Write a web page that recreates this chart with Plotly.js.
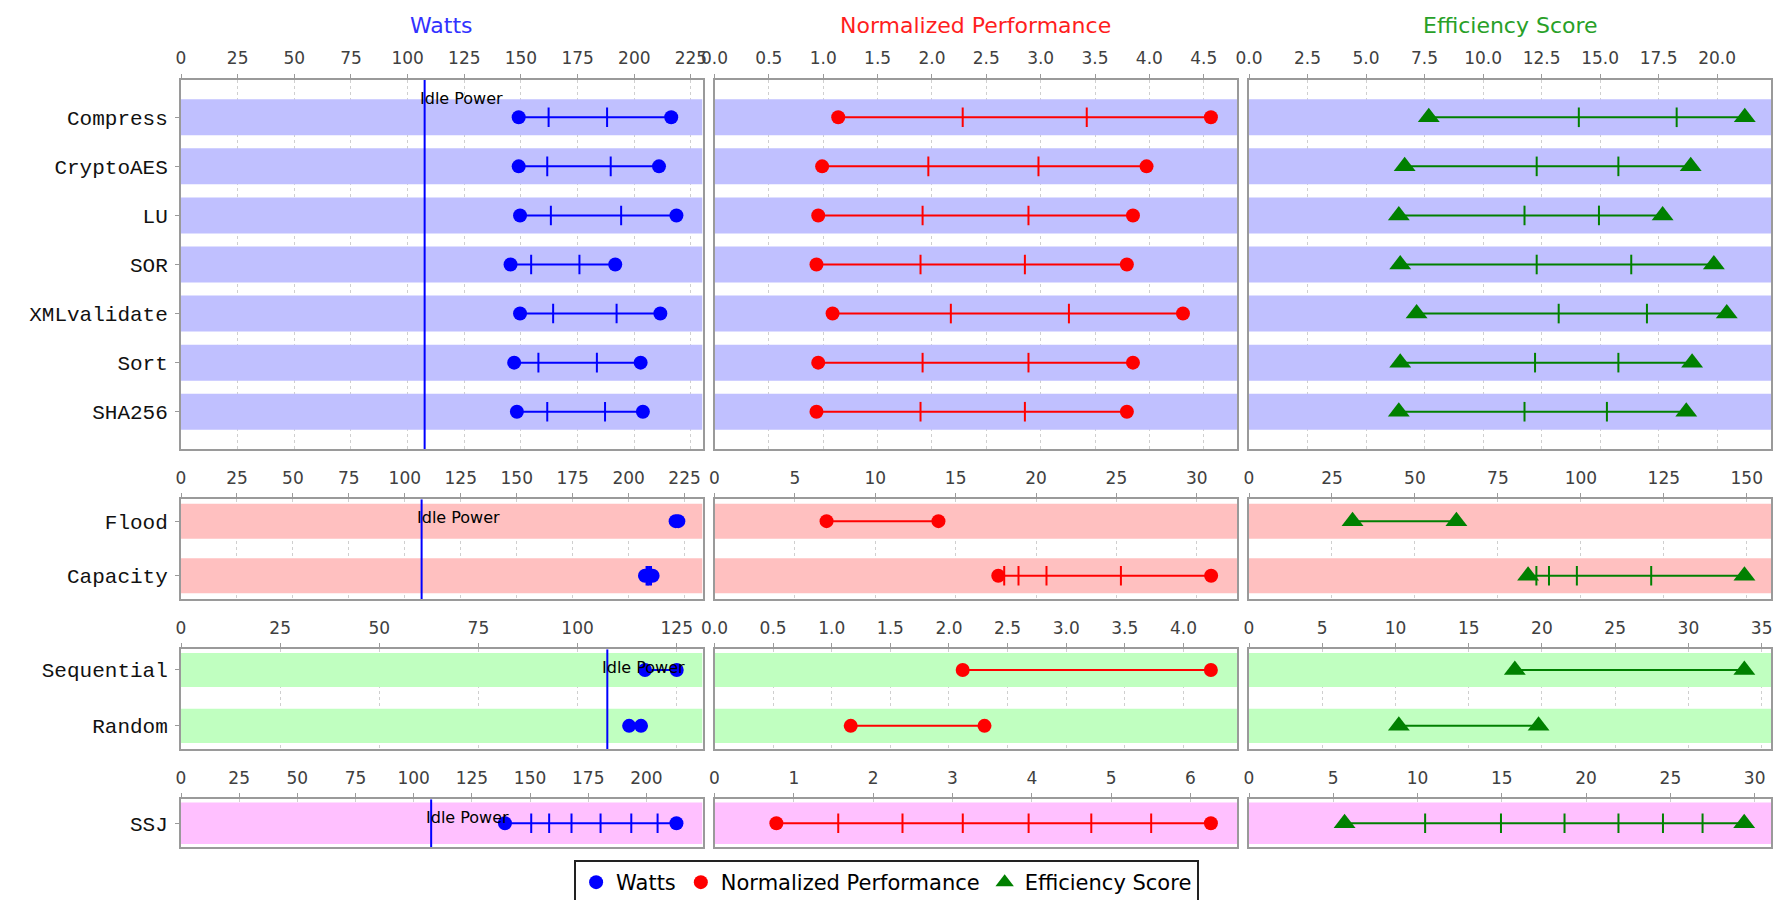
<!DOCTYPE html>
<html>
<head>
<meta charset="utf-8">
<script src="https://cdn.plot.ly/plotly-3.0.1.min.js"></script>
<style>html,body{margin:0;padding:0;background:#fff;}#chart{width:1775px;height:900px;}</style>
</head>
<body>
<div id="chart"></div>
<script>
// ---------------- DATA ----------------
const panelTitles = ['Watts', 'Normalized Performance', 'Efficiency Score'];
const legendNames = ['Watts', 'Normalized Performance', 'Efficiency Score'];
const idleLabel = 'Idle Power';
const idleWatts = [107.5, 107.5, 107.5, 107.5];

const benchCats = ['Compress', 'CryptoAES', 'LU', 'SOR', 'XMLvalidate', 'Sort', 'SHA256'];
const benchWatts = [
  [149.0, 162.2, 188.0, 216.3],
  [149.0, 161.6, 189.6, 210.9],
  [149.6, 163.2, 194.2, 218.6],
  [145.4, 154.5, 175.8, 191.6],
  [149.6, 164.2, 192.2, 211.5],
  [147.0, 157.7, 183.5, 202.8],
  [148.2, 161.6, 187.1, 203.8]
];
const benchPerf = [
  [1.138, 2.283, 3.424, 4.566],
  [0.990, 1.967, 2.980, 3.974],
  [0.954, 1.914, 2.888, 3.849],
  [0.938, 1.895, 2.855, 3.793],
  [1.086, 2.174, 3.260, 4.309],
  [0.954, 1.914, 2.888, 3.849],
  [0.938, 1.895, 2.855, 3.793]
];
const benchEff = [
  [7.68, 14.09, 18.27, 21.18],
  [6.65, 12.29, 15.78, 18.87],
  [6.40, 11.77, 14.95, 17.67],
  [6.46, 12.29, 16.33, 19.86],
  [7.16, 13.23, 17.00, 20.41],
  [6.46, 12.22, 15.78, 18.93],
  [6.40, 11.77, 15.29, 18.68]
];

const netCats = ['Flood', 'Capacity'];
const netWatts = [
  [221.0, 222.2],
  [207.3, 208.0, 208.6, 209.2, 210.0, 210.7]
];
const netPerf = [
  [6.97, 13.93],
  [17.65, 18.02, 18.91, 20.65, 25.28, 30.89]
];
const netEff = [
  [31.2, 62.5],
  [84.1, 86.6, 90.4, 98.8, 121.2, 149.3]
];

const storCats = ['Sequential', 'Random'];
const storWatts = [
  [117.0, 125.0],
  [113.0, 116.0]
];
const storPerf = [
  [2.117, 4.234],
  [1.162, 2.303]
];
const storEff = [
  [18.15, 33.82],
  [10.23, 19.77]
];

const ssjCats = ['SSJ'];
const ssjWatts = [[139.2, 150.5, 158.2, 167.8, 180.3, 193.5, 204.8, 212.9]];
const ssjPerf = [[0.78, 1.56, 2.37, 3.13, 3.96, 4.75, 5.505, 6.258]];
const ssjEff = [[5.67, 10.45, 14.95, 18.72, 21.92, 24.56, 26.91, 29.38]];

// ---------------- STYLE / LAYOUT ----------------
const W = 1775, H = 900;
const seriesColors = ['#0000ff', '#ff0000', '#008000'];
const titleColors = ['rgb(50,50,255)', 'rgb(255,30,30)', 'rgb(40,160,40)'];
const endSymbols = ['circle', 'circle', 'triangle-up'];
const endSizes = [14, 14, 19];
const colPx = [[181, 702.5], [714.5, 1237], [1249, 1771]];

const rows = [
  {cats: benchCats, data: [benchWatts, benchPerf, benchEff],
   ranges: [[0, 230.1], [0, 4.806], [0, 22.3]], dticks: [25, 0.5, 2.5], fmts: ['', '.1f', '.1f'],
   pad: [0.76, 0.76], band: 0.367, bandColor: '#c0c0ff', px: [80, 449]},
  {cats: netCats, data: [netWatts, netPerf, netEff],
   ranges: [[0, 233], [0, 32.5], [0, 157.3]], dticks: [25, 5, 25], fmts: ['', '', ''],
   pad: [0.40, 0.43], band: 0.32, bandColor: '#ffc0c0', px: [499.3, 599.3]},
  {cats: storCats, data: [storWatts, storPerf, storEff],
   ranges: [[0, 131.5], [0, 4.457], [0, 35.64]], dticks: [25, 0.5, 5], fmts: ['', '.1f', ''],
   pad: [0.37, 0.42], band: 0.305, bandColor: '#c0ffc0', px: [649.3, 749.3]},
  {cats: ssjCats, data: [ssjWatts, ssjPerf, ssjEff],
   ranges: [[0, 224.1], [0, 6.587], [0, 30.97]], dticks: [25, 1, 5], fmts: ['', '', ''],
   pad: [0.5, 0.5], band: 0.433, bandColor: '#ffc0ff', px: [799.3, 847.3]}
];

const traces = [];
const shapes = [];
const annotations = [];
const layout = {
  width: W, height: H,
  margin: {l: 0, r: 0, t: 0, b: 0, autoexpand: false},
  paper_bgcolor: '#ffffff', plot_bgcolor: '#ffffff',
  showlegend: true,
  legend: {
    orientation: 'h', x: 0.4995, xanchor: 'center', y: 1 - 860 / H, yanchor: 'top',
    bordercolor: '#222', borderwidth: 2, bgcolor: '#ffffff',
    font: {family: 'DejaVu Sans', size: 21, color: '#000'},
    itemwidth: 30, tracegroupgap: 0
  },
  font: {family: 'DejaVu Sans'}
};

rows.forEach((row, r) => {
  const n = row.cats.length;
  for (let c = 0; c < 3; c++) {
    const k = r * 3 + c + 1;
    const xa = k === 1 ? 'x' : 'x' + k;
    const ya = k === 1 ? 'y' : 'y' + k;
    const xName = k === 1 ? 'xaxis' : 'xaxis' + k;
    const yName = k === 1 ? 'yaxis' : 'yaxis' + k;
    layout[xName] = {
      domain: [colPx[c][0] / W, colPx[c][1] / W], anchor: ya, side: 'top',
      range: row.ranges[c], tickmode: 'linear', tick0: 0, dtick: row.dticks[c], tickformat: row.fmts[c],
      showgrid: true, gridcolor: '#cfcfcf', griddash: '3px,3px', gridwidth: 1,
      showline: true, mirror: true, linecolor: '#9a9a9a', linewidth: 2,
      ticks: 'outside', ticklen: 4, tickcolor: '#9a9a9a', tickwidth: 1,
      tickfont: {family: 'DejaVu Sans', size: 17, color: '#404040'},
      ticklabelstandoff: 3,
      zeroline: false, fixedrange: true
    };
    layout[yName] = {
      domain: [1 - row.px[1] / H, 1 - row.px[0] / H], anchor: xa,
      type: 'category', categoryorder: 'array', categoryarray: row.cats,
      range: [n - 1 + row.pad[1], -row.pad[0]],
      showgrid: false, showline: true, mirror: true, linecolor: '#9a9a9a', linewidth: 2,
      ticks: c === 0 ? 'outside' : '', ticklen: 4, tickcolor: '#9a9a9a',
      showticklabels: c === 0,
      tickfont: {family: 'Liberation Mono', size: 21, color: '#111'},
      ticklabelstandoff: 3,
      zeroline: false, fixedrange: true
    };
    // bands (between gridlines and traces)
    row.cats.forEach((cat, i) => {
      shapes.push({type: 'rect', xref: xa, yref: ya, x0: row.ranges[c][0], x1: row.ranges[c][1],
        y0: i - row.band, y1: i + row.band, fillcolor: row.bandColor, line: {width: 0}, layer: 'between'});
    });
    // idle power line
    if (c === 0) {
      shapes.push({type: 'line', xref: xa, yref: ya, x0: idleWatts[r], x1: idleWatts[r],
        y0: -row.pad[0], y1: n - 1 + row.pad[1],
        line: {color: '#0000ff', width: 2}, layer: 'between'});
      annotations.push({xref: xa, yref: ya + ' domain', x: idleWatts[r], y: 1, xanchor: 'left', yanchor: 'middle',
        xshift: -7, yshift: -18, text: idleLabel, showarrow: false,
        font: {family: 'DejaVu Sans', size: 16, color: '#000'}});
    }
    // series
    const series = row.data[c];
    series.forEach((vals, i) => {
      const m = vals.length;
      const isEnd = vals.map((v, j) => j === 0 || j === m - 1);
      traces.push({
        type: 'scatter', mode: 'lines+markers', xaxis: xa, yaxis: ya,
        x: vals, y: vals.map(() => row.cats[i]),
        line: {color: seriesColors[c], width: 2},
        marker: {
          color: seriesColors[c], opacity: 1,
          symbol: isEnd.map(e => e ? endSymbols[c] : 'line-ns'),
          size: isEnd.map(e => e ? endSizes[c] : 14),
          line: {color: seriesColors[c], width: isEnd.map(e => e ? 0 : 2)}
        },
        showlegend: false, hoverinfo: 'skip'
      });
    });
  }
});

// column titles
for (let c = 0; c < 3; c++) {
  annotations.push({xref: 'paper', yref: 'paper', x: (colPx[c][0] + colPx[c][1]) / 2 / W, y: 1 - 25 / H,
    xanchor: 'center', yanchor: 'middle', text: panelTitles[c], showarrow: false,
    font: {family: 'DejaVu Sans', size: 22, color: titleColors[c]}});
}

// legend entries
for (let c = 0; c < 3; c++) {
  traces.push({type: 'scatter', mode: 'markers', x: [null], y: [null], xaxis: 'x', yaxis: 'y',
    name: legendNames[c], marker: {color: seriesColors[c], opacity: 1, symbol: endSymbols[c], size: c === 2 ? 17 : 14},
    showlegend: true, hoverinfo: 'skip'});
}

layout.shapes = shapes;
layout.annotations = annotations;

Plotly.newPlot('chart', traces, layout, {staticPlot: true, displayModeBar: false});
</script>
</body>
</html>
